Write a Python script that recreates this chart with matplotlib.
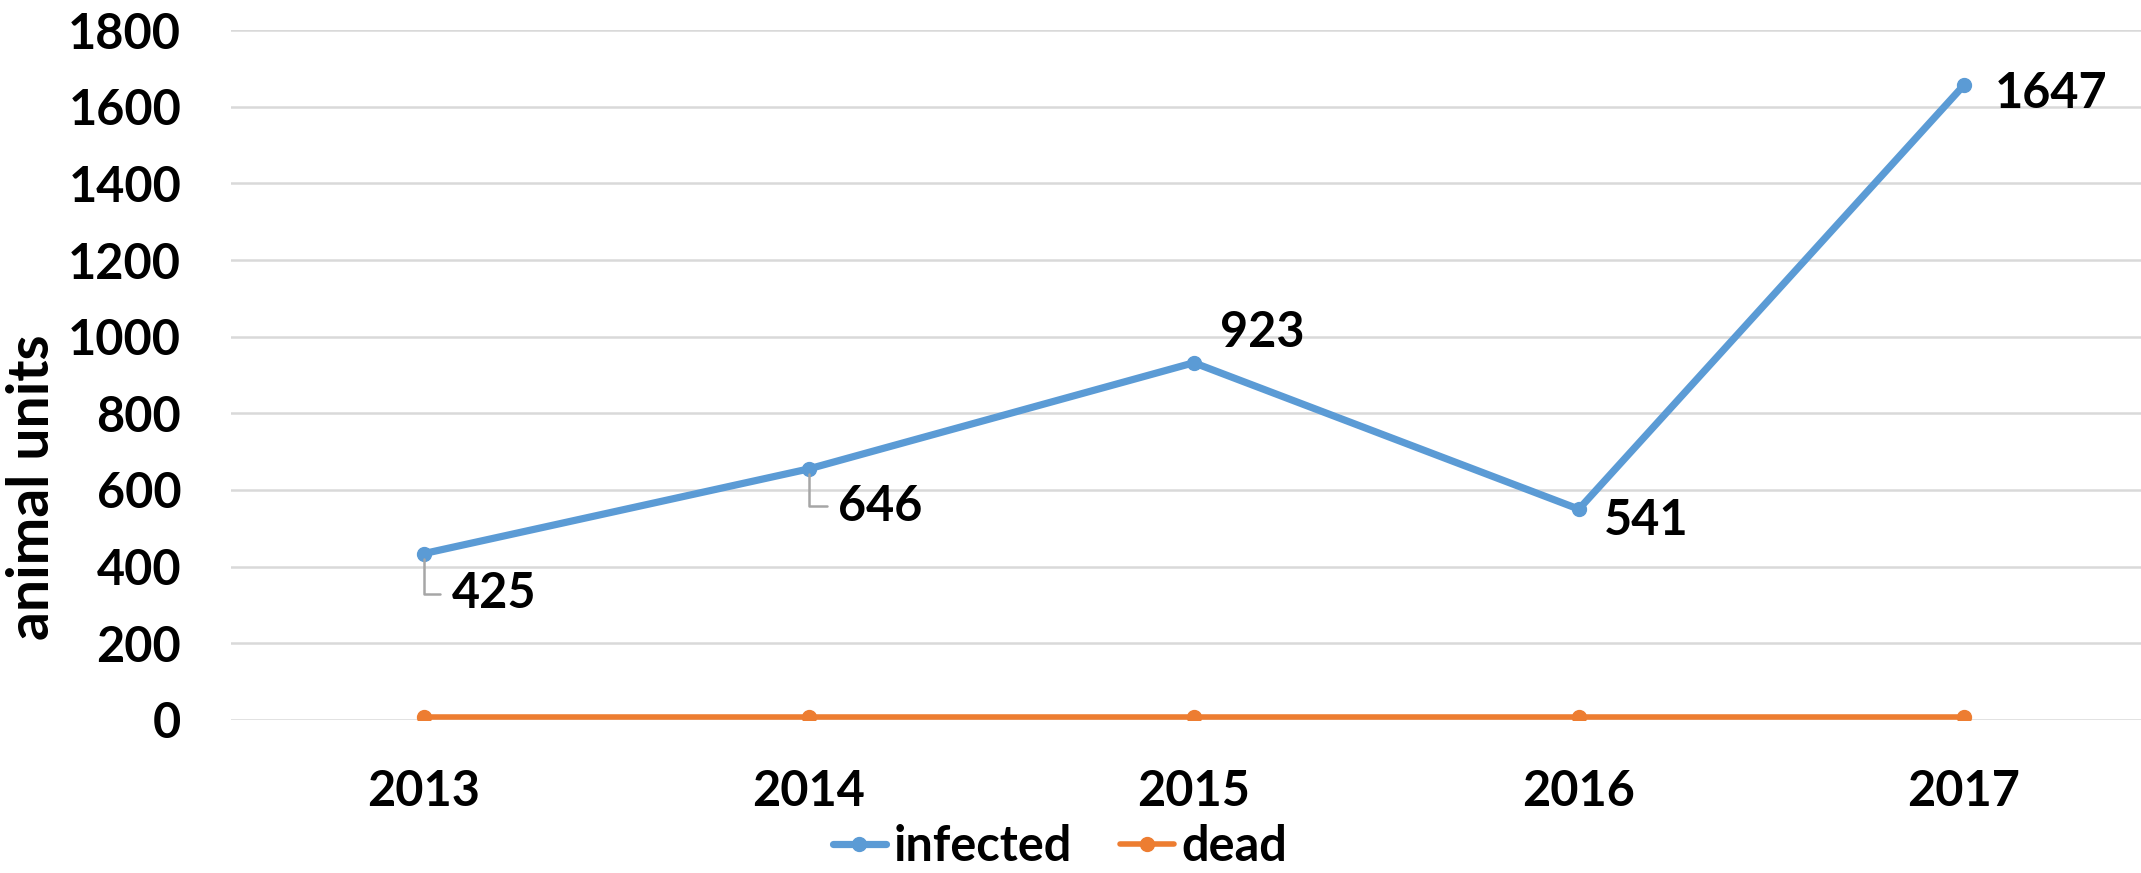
import matplotlib
matplotlib.use("Agg")
import matplotlib.pyplot as plt
import numpy as np

years = ["2013", "2014", "2015", "2016", "2017"]
infected = [425, 646, 923, 541, 1647]
dead = [9, 9, 9, 9, 9]
yticks = [0, 200, 400, 600, 800, 1000, 1200, 1400, 1600, 1800]

# label offsets in points (dx, dy) and whether a leader line is drawn
label_offsets = [(20, -29), (21, -27), (19, 22), (18, -8), (22, -6)]
leaders = [True, True, False, False, False]

BLUE = "#5B9BD5"
ORANGE = "#ED7D31"
GRID = "#D9D9D9"
FONT = "Lato"
W = "bold"

plt.rcParams["font.family"] = [FONT, "DejaVu Sans"]
plt.rcParams["font.weight"] = W

fig = plt.figure(figsize=(21.41, 8.73), dpi=100)
ax = fig.add_axes([0.108, 0.1753, 0.892, 0.7903])

x = np.arange(len(years))
stacked = np.array(infected) + np.array(dead)

ax.plot(x, stacked, color=BLUE, lw=5.2, marker="o", ms=10, label="infected",
        solid_capstyle="round", zorder=3)
ax.plot(x, dead, color=ORANGE, lw=4.0, marker="o", ms=10, label="dead",
        solid_capstyle="round", zorder=3)

for i, (v, s) in enumerate(zip(infected, stacked)):
    dx, dy = label_offsets[i]
    kw = dict(xy=(x[i], s), xytext=(dx, dy), textcoords="offset points",
              ha="left", va="center", fontsize=35, fontweight=W)
    if leaders[i]:
        kw["arrowprops"] = dict(arrowstyle="-", color="#A6A6A6", lw=1.8,
                                connectionstyle="angle,angleA=180,angleB=90,rad=0",
                                relpos=(0, 0.5), shrinkA=6, shrinkB=4)
    ax.annotate(str(v), **kw)

ax.set_xlim(-0.5, 4.46)
ax.set_ylim(0, 1800)
ax.set_yticks(yticks)
ax.set_yticklabels([str(t) for t in yticks])
ax.set_xticks(x)
ax.set_xticklabels(years)
ax.tick_params(axis="both", length=0, labelsize=35)
ax.tick_params(axis="y", pad=36)
ax.tick_params(axis="x", pad=35)
for lab in ax.get_xticklabels() + ax.get_yticklabels():
    lab.set_fontweight(W)

ax.yaxis.grid(True, color=GRID, lw=1.8)
ax.set_axisbelow(True)
for sp in ax.spines.values():
    sp.set_visible(False)

ax.set_ylabel("animal units", fontsize=41, fontweight=W)
ax.yaxis.set_label_coords(-0.09, 0.337)

leg = fig.legend(loc="center", bbox_to_anchor=(0.495, 0.03), ncol=2, frameon=False,
                 handlelength=1.1, handletextpad=0.15, columnspacing=1.0,
                 prop={"family": FONT, "weight": W, "size": 35})

fig.savefig("out.png", dpi=100)
